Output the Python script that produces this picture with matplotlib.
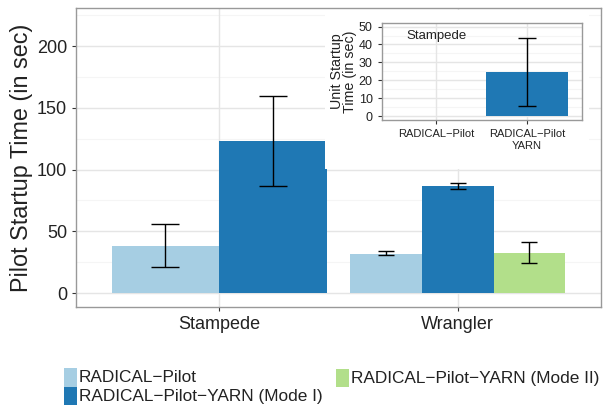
import matplotlib
matplotlib.use("Agg")
from matplotlib import pyplot as plt
from matplotlib.patches import Rectangle
import numpy as np

plt.rcParams['font.family'] = ['Liberation Sans', 'DejaVu Sans']

# data
machines = ["Stampede", "Wrangler"]
series = ["RADICAL\u2212Pilot", "RADICAL\u2212Pilot\u2212YARN (Mode I)", "RADICAL\u2212Pilot\u2212YARN (Mode II)"]
colors = ["#a6cee3", "#1f78b4", "#b2df8a"]
# Stampede: RP, YARN mode I ; Wrangler: RP, YARN mode I, YARN mode II
stampede_mean = [38.5, 123.5]
stampede_lo = [21, 87]
stampede_hi = [56, 160]
wrangler_mean = [32, 86.5]
wrangler_lo = [30.5, 84]
wrangler_hi = [34, 89]
wrangler2_mean = [32.5]
wrangler2_lo = [24]
wrangler2_hi = [41]

inset_cats = ["RADICAL\u2212Pilot", "RADICAL\u2212Pilot\nYARN"]
inset_mean = [0.3, 24.5]
inset_lo = [0.3, 5.5]
inset_hi = [0.3, 43.5]

grid_major = "#e5e5e5"
grid_minor = "#f5f5f5"
border = "#999999"
txt = "#222222"

fig = plt.figure(figsize=(6.11, 4.07), dpi=100)
ax = fig.add_axes([0.1244, 0.2457, 0.8592, 0.7343])

def style(a, major, minor, fs):
    a.set_facecolor("white")
    for s in a.spines.values():
        s.set_color(border)
        s.set_linewidth(1.0)
    a.set_yticks(major)
    a.set_yticks(minor, minor=True)
    a.tick_params(axis='y', which='minor', length=0)
    a.tick_params(axis='both', which='major', colors='#333333', labelcolor=txt,
                  labelsize=fs, length=3, width=0.8)
    for y in major:
        a.axhline(y, color=grid_major, lw=1.0, zorder=0)
    for y in minor:
        a.axhline(y, color=grid_minor, lw=0.8, zorder=0)

style(ax, np.arange(0, 201, 50), np.arange(25, 226, 50), 13)
ax.set_xlim(0.4, 2.6)
ax.set_ylim(-11.3, 230.8)
ax.set_xticks([1, 2])
ax.set_xticklabels(machines, fontsize=13)
for x in [1, 2]:
    ax.axvline(x, color=grid_major, lw=1.0, zorder=0)

# Stampede: two bars, width 0.45
w = 0.45
for i in range(2):
    xc = 1 - w / 2 + i * w
    ax.bar(xc, stampede_mean[i], width=w, color=colors[i], zorder=2)
    m = stampede_mean[i]
    ax.errorbar(xc, m, yerr=[[m - stampede_lo[i]], [stampede_hi[i] - m]],
                fmt='none', ecolor='black', elinewidth=1.0, capsize=10.4, capthick=1.0, zorder=3)

# Wrangler: three bars, width 0.3
w = 0.3
wm = wrangler_mean + wrangler2_mean
wl = wrangler_lo + wrangler2_lo
wh = wrangler_hi + wrangler2_hi
for i in range(3):
    xc = 2 - w + i * w
    ax.bar(xc, wm[i], width=w, color=colors[i], zorder=2)
    ax.errorbar(xc, wm[i], yerr=[[wm[i] - wl[i]], [wh[i] - wm[i]]],
                fmt='none', ecolor='black', elinewidth=1.0, capsize=5.8, capthick=1.0, zorder=3)

ax.set_ylabel("Pilot Startup Time (in sec)", fontsize=16.8, color=txt, labelpad=3)

# inset backdrop
fig.patches.append(Rectangle((0.532, 0.585), 0.432, 0.39, transform=fig.transFigure,
                             facecolor="white", edgecolor="none", zorder=5))

ins = fig.add_axes([0.6247, 0.705, 0.3273, 0.239])
ins.set_zorder(6)
style(ins, np.arange(0, 51, 10), np.arange(5, 56, 10), 9)
ins.set_xlim(0.4, 2.6)
ins.set_ylim(-2.2, 52.1)
ins.set_xticks([1, 2])
ins.set_xticklabels(inset_cats, fontsize=8)
for x in [1, 2]:
    ins.axvline(x, color=grid_major, lw=1.0, zorder=0)
for i in range(2):
    ins.bar(i + 1, inset_mean[i], width=0.9, color=colors[i], zorder=2)
ins.errorbar(2, inset_mean[1], yerr=[[inset_mean[1] - inset_lo[1]], [inset_hi[1] - inset_mean[1]]],
             fmt='none', ecolor='black', elinewidth=1.0, capsize=6.5, capthick=1.0, zorder=3)
ins.text(0.668, 45, "Stampede", fontsize=9.5, color=txt, va='center', ha='left')
ins.set_ylabel("Unit Startup\nTime (in sec)", fontsize=10.3, color=txt, labelpad=1, linespacing=0.95)

# legend at bottom
kw = 13 / 611
items = [(64, 368, 387, 0), (64, 387, 405, 1), (336, 369, 387, 2)]
for px, top, bot, i in items:
    x0 = px / 611
    y0 = 1 - bot / 407
    kh = (bot - top) / 407
    fig.patches.append(Rectangle((x0, y0), kw, kh, transform=fig.transFigure,
                                 facecolor=colors[i], edgecolor="none"))
    fig.text(x0 + kw + 2 / 611, y0 + kh / 2, series[i], fontsize=12.4, color=txt,
             va='center', ha='left')

fig.savefig("out.png", dpi=100)
